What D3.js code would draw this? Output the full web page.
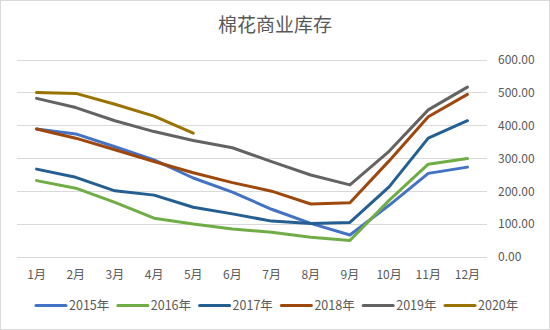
<!DOCTYPE html>
<html><head><meta charset="utf-8">
<script src="https://cdn.jsdelivr.net/npm/d3@7"></script>
<style>html,body{margin:0;padding:0;background:#fff;}svg{display:block;}</style>
</head><body>
<script>
const months = ["1月","2月","3月","4月","5月","6月","7月","8月","9月","10月","11月","12月"];
const seriesNames = ["2015年","2016年","2017年","2018年","2019年","2020年"];
const v2015 = [389,374,335,295,240,197,145,102,67,157,254,273];
const v2016 = [232,209,166,118,100,85,75,60,50,172,282,299];
const v2017 = [267,242,201,188,151,131,109,102,105,213,361,414];
const v2018 = [389,361,326,290,256,226,200,161,165,292,426,494];
const v2019 = [482,454,414,381,354,332,290,249,219,321,447,516];
const v2020 = [500,497,464,428,376];
const yTicks = [0,100,200,300,400,500,600];
const colors = ["#4472C4","#70AD47","#255E91","#9E480E","#636363","#997300"];
const title = "棉花商业库存";

const W=550,H=330;
const svg=d3.select("body").append("svg").attr("width",W).attr("height",H);
svg.append("rect").attr("x",0.5).attr("y",0.5).attr("width",W-1).attr("height",H-1)
  .attr("fill","#fff").attr("stroke","#D9D9D9");

const x=d3.scaleBand().domain(months).range([17,487]);
const y=d3.scaleLinear().domain([0,600]).range([257,59.5]);

svg.append("text").attr("x",275).attr("y",32).attr("text-anchor","middle")
  .attr("font-family","'Noto Sans CJK SC'").attr("font-size",19).attr("fill","#595959").text(title);

// gridlines
svg.append("g").selectAll("line").data(yTicks).join("line")
  .attr("x1",17).attr("x2",487).attr("y1",d=>Math.round(y(d))+0.5).attr("y2",d=>Math.round(y(d))+0.5)
  .attr("stroke","#D9D9D9").attr("stroke-width",1);

// right axis labels
const ya=svg.append("g").attr("transform","translate(487,0)")
  .call(d3.axisRight(y).tickValues(yTicks).tickFormat(d3.format(".2f")).tickSize(0).tickPadding(11));
ya.select(".domain").remove();
ya.selectAll("text").attr("font-family","'Noto Sans CJK SC'").attr("font-size",12).attr("fill","#595959");

// bottom axis labels
const xa=svg.append("g").attr("transform","translate(0,257)")
  .call(d3.axisBottom(x).tickSize(0).tickPadding(13));
xa.select(".domain").remove();
xa.selectAll("text").attr("font-family","'Noto Sans CJK SC'").attr("font-size",12).attr("fill","#595959");

const allSeries=[v2015,v2016,v2017,v2018,v2019,v2020];
const line=d3.line().x((d,i)=>x(months[i])+x.bandwidth()/2).y(d=>y(d));
svg.append("g").selectAll("path").data(allSeries).join("path")
  .attr("d",d=>line(d)).attr("fill","none").attr("stroke",(d,i)=>colors[i])
  .attr("stroke-width",3).attr("stroke-linejoin","round").attr("stroke-linecap","round");

// legend
const lg=svg.append("g").selectAll("g").data(seriesNames).join("g")
  .attr("transform",(d,i)=>`translate(${36+i*81.8},305.5)`);
lg.append("line").attr("x1",0).attr("x2",30).attr("y1",0).attr("y2",0)
  .attr("stroke",(d,i)=>colors[i]).attr("stroke-width",3).attr("stroke-linecap","round");
lg.append("text").attr("x",33).attr("y",0).attr("dy","0.35em")
  .attr("font-family","'Noto Sans CJK SC'").attr("font-size",12.5).attr("fill","#595959").text(d=>d);
</script>
</body></html>
